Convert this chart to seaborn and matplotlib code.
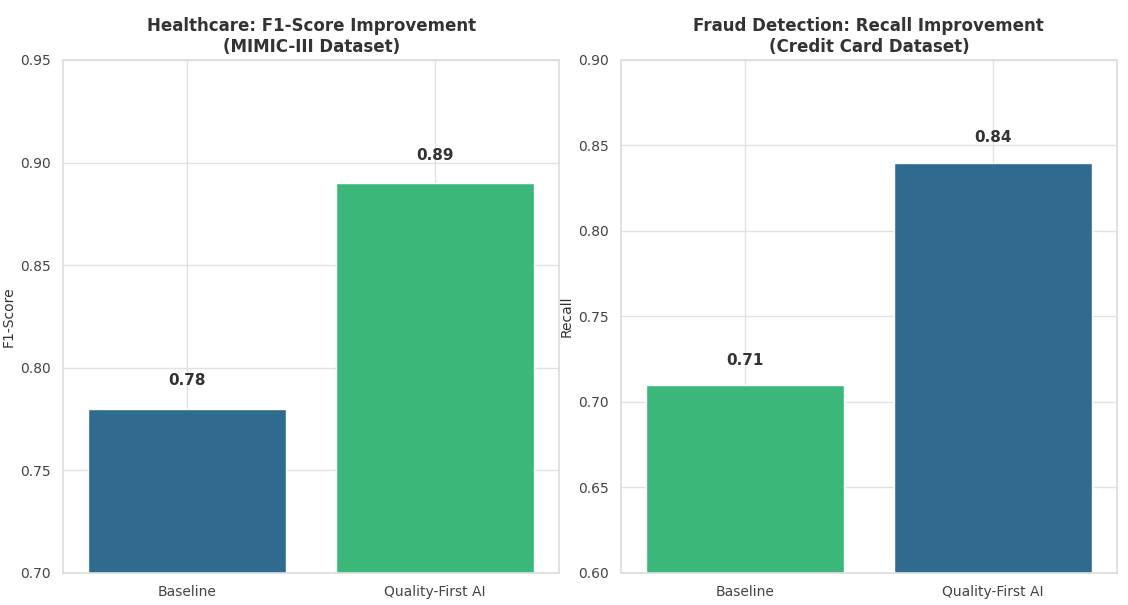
import matplotlib
matplotlib.use("Agg")
import matplotlib.pyplot as plt
import seaborn as sns
import pandas as pd

# Results for the two application domains
models = ["Baseline", "Quality-First AI"]
healthcare_f1 = [0.78, 0.89]
fraud_recall = [0.71, 0.84]

blue = "#2e6b8e"
green = "#3bb77a"

sns.set_theme(style="whitegrid")
plt.rcParams["font.family"] = ["DejaVu Sans"]

fig, axes = plt.subplots(1, 2, figsize=(11.28, 6.05), dpi=100)
fig.subplots_adjust(left=0.056, right=0.990, top=0.901, bottom=0.053, wspace=0.125)

panels = [
    (axes[0], healthcare_f1, [blue, green], "F1-Score",
     "Healthcare: F1-Score Improvement\n(MIMIC-III Dataset)", (0.70, 0.95)),
    (axes[1], fraud_recall, [green, blue], "Recall",
     "Fraud Detection: Recall Improvement\n(Credit Card Dataset)", (0.60, 0.90)),
]

for ax, values, colors, ylabel, title, ylim in panels:
    df = pd.DataFrame({"Model": models, "Score": values})
    sns.barplot(data=df, x="Model", y="Score", hue="Model", palette=colors,
                legend=False, ax=ax, width=0.8, saturation=1)
    ax.set_ylim(*ylim)
    ax.set_xlabel("")
    ax.set_ylabel(ylabel, fontsize=10, color="#333333", labelpad=3)
    ax.set_title(title, fontsize=12, fontweight="bold", color="#333333", pad=6)
    ax.tick_params(axis="both", labelsize=10, labelcolor="#444444", pad=3)
    ax.grid(True, axis="both", color="#e2e2e2", linewidth=1)
    for spine in ax.spines.values():
        spine.set_color("#dddddd")
    for i, v in enumerate(values):
        ax.text(i, v + 0.01, f"{v:.2f}", ha="center", va="bottom",
                fontsize=11, fontweight="bold", color="#333333")

fig.savefig("out.png", dpi=100)
